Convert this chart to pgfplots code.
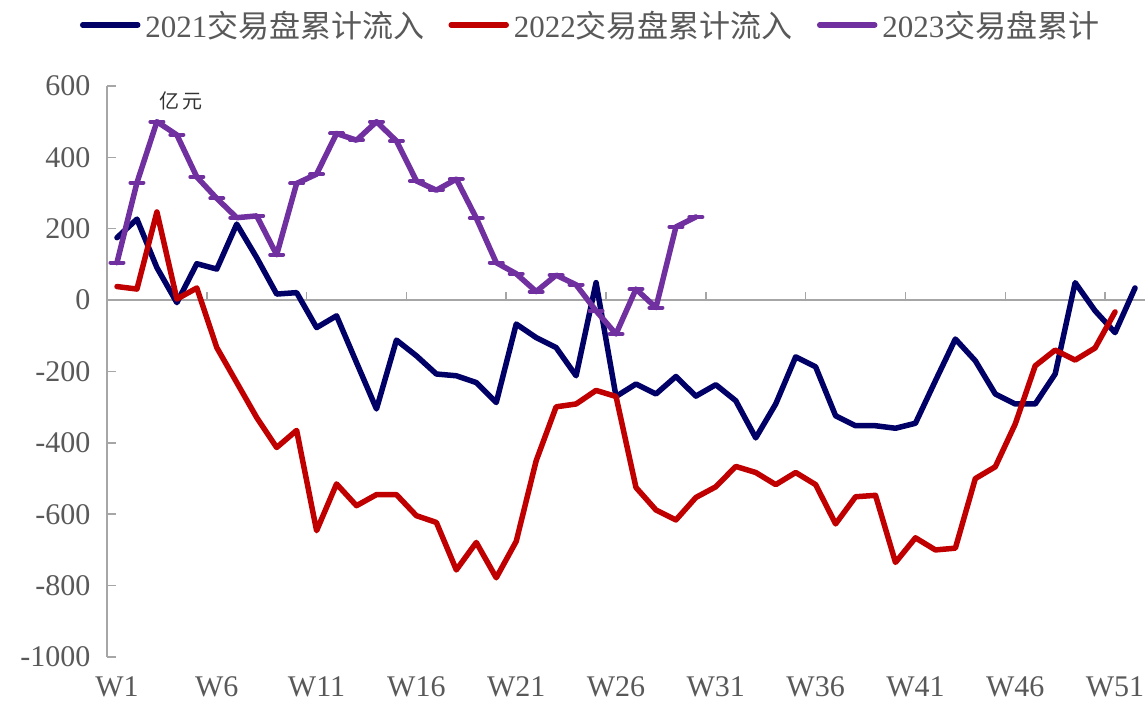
\documentclass[border=0pt]{standalone}
\usepackage{fontspec}
\setmainfont{Liberation Serif}
\newfontfamily\cjk{Noto Sans CJK SC}
\usepackage{pgfplots}
\pgfplotsset{compat=1.18}
\definecolor{c21}{RGB}{0,0,102}
\definecolor{c22}{RGB}{192,0,0}
\definecolor{c23}{RGB}{112,48,160}
\definecolor{axgray}{RGB}{166,166,166}
\definecolor{txtgray}{RGB}{89,89,89}
\begin{document}
\begin{tikzpicture}
\path[use as bounding box] (0,0) rectangle (1145bp,704bp);
\begin{axis}[
  at={(107bp,47bp)}, anchor=south west,
  scale only axis, width=1038bp, height=571bp,
  xmin=0.5, xmax=52.5, ymin=-1000, ymax=600,
  axis lines*=left,
  x axis line style={draw=none},
  y axis line style={draw=axgray, line width=1.5bp},
  xtick={1,6,11,16,21,26,31,36,41,46,51},
  xticklabels={W1,W6,W11,W16,W21,W26,W31,W36,W41,W46,W51},
  x tick style={draw=none},
  ytick={-1000,-800,-600,-400,-200,0,200,400,600},
  yticklabels={-1000,-800,-600,-400,-200,0,200,400,600},
  y tick style={draw=axgray, line width=1.5bp},
  tick align=inside, major tick length=9bp,
  ticklabel style={font=\fontsize{30bp}{36bp}\selectfont, text=txtgray},
  xticklabel style={yshift=-16bp},
  yticklabel style={xshift=-13bp},
  legend columns=3,
  legend style={at={(0.466,1.107)}, anchor=center, draw=none, fill=none,
    font=\fontsize{31bp}{36bp}\selectfont, text=txtgray,
    /tikz/every even column/.append style={column sep=22bp},
    /tikz/every odd column/.append style={column sep=3bp}},
  legend image code/.code={\draw[#1, mark=none] (0bp,0bp) -- (55bp,0bp);},
  every axis plot/.append style={line join=round, line cap=round},
]
\draw[axgray, line width=1.5bp] (axis cs:0.5,0) -- (axis cs:52.5,0);
\pgfplotsinvokeforeach{5.5,10.5,15.5,20.5,25.5,30.5,35.5,40.5,45.5,50.5}{
  \draw[axgray, line width=1.5bp] (axis cs:#1,0) -- (axis cs:#1,23);
}
\addplot[c21, line width=5.5bp] coordinates {
(1,175) (2,227) (3,91) (4,-7) (5,102) (6,87) (7,213) (8,119) (9,17) (10,21)
(11,-77) (12,-44) (13,-175) (14,-305) (15,-112) (16,-156) (17,-207) (18,-212) (19,-231) (20,-287)
(21,-67) (22,-105) (23,-133) (24,-212) (25,49) (26,-270) (27,-235) (28,-263) (29,-214) (30,-269)
(31,-237) (32,-282) (33,-386) (34,-291) (35,-159) (36,-187) (37,-324) (38,-352) (39,-352) (40,-359)
(41,-345) (42,-226) (43,-109) (44,-170) (45,-263) (46,-291) (47,-291) (48,-207) (49,49) (50,-30)
(51,-91) (52,34)};
\addlegendentry{2021{\cjk 交易盘累计流入}}
\addplot[c22, line width=5.5bp] coordinates {
(1,38) (2,31) (3,247) (4,3) (5,34) (6,-133) (7,-231) (8,-329) (9,-413) (10,-365)
(11,-646) (12,-515) (13,-576) (14,-545) (15,-545) (16,-604) (17,-623) (18,-756) (19,-679) (20,-778)
(21,-676) (22,-450) (23,-299) (24,-291) (25,-253) (26,-270) (27,-525) (28,-588) (29,-616) (30,-553)
(31,-523) (32,-466) (33,-483) (34,-517) (35,-483) (36,-517) (37,-627) (38,-551) (39,-547) (40,-735)
(41,-666) (42,-700) (43,-695) (44,-500) (45,-467) (46,-347) (47,-184) (48,-140) (49,-168) (50,-134)
(51,-33)};
\addlegendentry{2022{\cjk 交易盘累计流入}}
\addplot[c23, line width=5.5bp, mark=-, mark size=6.5bp, mark options={line width=4bp}] coordinates {
(1,105) (2,329) (3,500) (4,463) (5,345) (6,285) (7,231) (8,236) (9,127) (10,327)
(11,353) (12,467) (13,448) (14,500) (15,446) (16,334) (17,308) (18,339) (19,230) (20,105)
(21,74) (22,24) (23,70) (24,43) (25,-30) (26,-95) (27,31) (28,-21) (29,205) (30,233)};
\addlegendentry{2023{\cjk 交易盘累计}}
\node[font=\cjk\fontsize{20bp}{24bp}\selectfont, text=black!80] at (axis cs:4.2,558) {亿\,元};
\end{axis}
\end{tikzpicture}
\end{document}
